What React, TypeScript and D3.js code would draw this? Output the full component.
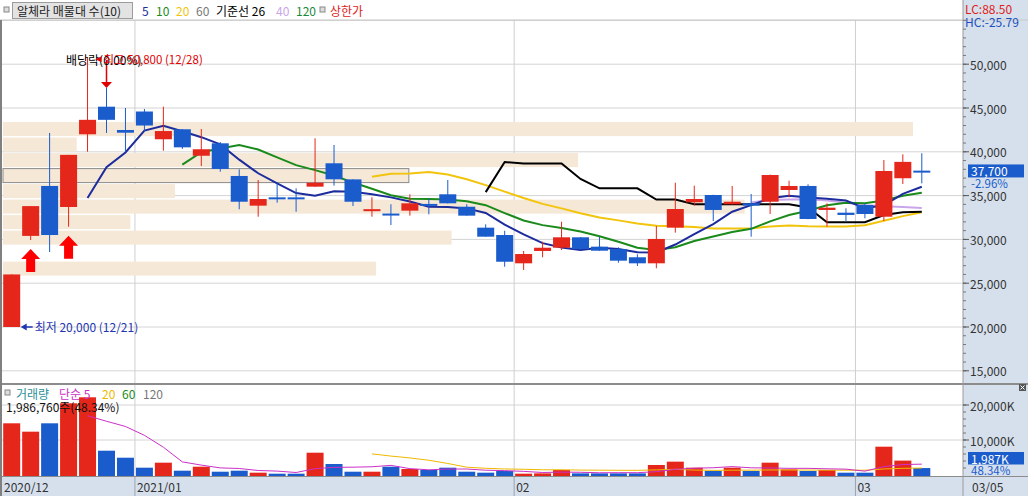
import React from "react";
import * as d3 from "d3";

// ---------- data ----------
const dates = [
  "2020-12-21","2020-12-22","2020-12-23","2020-12-24","2020-12-28","2020-12-29","2020-12-30",
  "2021-01-04","2021-01-05","2021-01-06","2021-01-07","2021-01-08","2021-01-11","2021-01-12","2021-01-13","2021-01-14","2021-01-15",
  "2021-01-18","2021-01-19","2021-01-20","2021-01-21","2021-01-22","2021-01-25","2021-01-26","2021-01-27","2021-01-28","2021-01-29",
  "2021-02-01","2021-02-02","2021-02-03","2021-02-04","2021-02-05","2021-02-08","2021-02-09","2021-02-10","2021-02-15","2021-02-16",
  "2021-02-17","2021-02-18","2021-02-19","2021-02-22","2021-02-23","2021-02-24","2021-02-25","2021-02-26",
  "2021-03-02","2021-03-03","2021-03-04","2021-03-05",
];
const open = [20000,30400,36100,33700,42000,45150,42490,44600,41430,42570,39550,40970,37240,33850,34800,34800,36020,38690,36850,33400,32950,33280,34050,35150,33730,31340,30500,27270,28680,29050,30240,29170,28900,27960,27270,31340,34240,35070,34010,34120,34300,35640,36100,33360,33050,33930,32590,36980,37850];
const high = [26000,33800,42150,39650,50800,47280,45000,44890,45150,42600,42600,41120,38000,36780,36400,35830,41540,40780,36860,34810,34010,35150,34690,36780,34010,31720,30990,28680,29740,32020,30250,30310,29100,28300,31530,36470,36130,35100,36100,35180,37400,36700,36290,34120,33550,34120,39060,39710,39830];
const low = [20000,29930,28560,31450,40010,42150,40010,42290,40130,40320,38380,37730,33440,32590,34190,33160,36000,36130,33810,32590,31640,32710,32870,34100,32700,30300,26880,26510,27960,28790,28790,28700,27340,26960,26700,30770,33850,32100,34000,30310,32900,34810,32300,31450,32020,32410,32100,36320,36400];
const close = [26000,33800,30500,39650,43650,43650,42180,43000,42370,40510,40290,38040,34300,34610,34750,34750,36470,36860,34300,33450,32900,34120,33850,34120,32710,30310,27450,28330,29050,30240,28900,28710,27570,27270,30050,33470,34610,33360,34300,33850,37350,36100,32330,33620,32790,32900,37810,38850,37700];
// volume in thousand shares
const volume = [14770,12380,14770,20490,22200,6940,4940,2090,3520,1230,2370,940,1230,660,370,370,6370,3140,940,940,2370,1710,1430,2090,940,660,1140,370,470,1430,470,470,470,470,2860,3810,2090,1140,2090,1140,3520,1620,1140,1430,660,660,8090,4110,1986.76];

const priceTicks = [15000,20000,25000,30000,35000,40000,45000,50000,55000];
const volumeTicks = [10000,20000];
const monthLabels = ["2020/12","2021/01","02","03"];
const lastDateLabel = "03/05";

// 매물대 (volume-at-price) bins, bottom to top, relative volume (% of largest)
const bandLow = 25750;
const bandStep = 1770;
const bandVolume = [41, 0, 49.3, 14, 81.5, 18.9, 44.6, 63.2, 8.1, 100];
const currentBand = 6;

const limitUpIdx = [1, 3];
const exDivIdx = 5;
const maxIdx = 4;
const minIdx = 0;

// ---------- helpers ----------
const sma = (v: number[], n: number) =>
  v.map((_, i) => (i < n - 1 ? null : (d3.mean(v.slice(i - n + 1, i + 1)) as number)));
const midline = (hi: number[], lo: number[], n: number) =>
  hi.map((_, i) =>
    i < n - 1 ? null : ((d3.max(hi.slice(i - n + 1, i + 1)) as number) + (d3.min(lo.slice(i - n + 1, i + 1)) as number)) / 2
  );

const RED = "#e5261b";
const BLUE = "#1b5ccc";
const AXBG = "#d6e0ec";
const FONT = "'Noto Sans CJK KR','Noto Sans',sans-serif";

const fmt = d3.format(",");
const mmdd = (d: string) => `${d.slice(5, 7)}/${d.slice(8, 10)}`;

export default function App() {
  const n = dates.length;
  const plotL = 2, plotR = 963;
  const x = d3.scaleLinear().domain([0, n - 1]).range([11.7, 921.8]);
  const yP = d3.scaleLinear().domain([15000, 50000]).range([370.8, 64.2]);
  const yV = d3.scaleLinear().domain([0, 20000]).range([475, 405]);
  const xBand = d3.scaleLinear().domain([0, 100]).range([3, 913]);
  const bw = 17;

  const ma5 = sma(close, 5), ma10 = sma(close, 10), ma20 = sma(close, 20), ma40 = sma(close, 40);
  const kijun = midline(high, low, 26);
  const vma5 = sma(volume, 5), vma20 = sma(volume, 20);

  const lineP = d3.line<number | null>().defined((d) => d != null).x((_, i) => x(i)).y((d) => yP(d as number));
  const lineV = d3.line<number | null>().defined((d) => d != null).x((_, i) => x(i)).y((d) => yV(d as number));

  const monthStarts: number[] = [];
  dates.forEach((d, i) => {
    if (i === 0 || d.slice(0, 7) !== dates[i - 1].slice(0, 7)) monthStarts.push(i);
  });

  const minorTicks = d3.range(15000, 56000, 1000);
  const last = n - 1;
  const prevClose = close[last - 1];
  const chg = ((close[last] - prevClose) / prevClose) * 100;
  const yLast = yP(close[last]);
  const volRatio = (volume[last] / volume[last - 1]) * 100;
  const vLabelY = Math.min(yV(volume[last]) - 7, 452);

  return (
    <svg width={1028} height={496} style={{ position: "absolute", left: 0, top: 0, background: "#fff" }} fontFamily={FONT} fontSize={12}>
      <defs>
        <clipPath id="pclip"><rect x={plotL} y={20} width={plotR - plotL} height={363} /></clipPath>
        <clipPath id="vclip"><rect x={plotL} y={385} width={plotR - plotL} height={91} /></clipPath>
      </defs>

      {/* axis backgrounds */}
      <rect x={plotR} y={0} width={1028 - plotR} height={496} fill={AXBG} />
      <rect x={0} y={477} width={1028} height={19} fill={AXBG} />

      {/* horizontal grid */}
      {priceTicks.map((t) => (
        <line key={"g" + t} x1={plotL} x2={plotR} y1={yP(t)} y2={yP(t)} stroke="#d4d4d4" />
      ))}
      {volumeTicks.map((t) => (
        <line key={"vg" + t} x1={plotL} x2={plotR} y1={yV(t)} y2={yV(t)} stroke="#d4d4d4" />
      ))}

      {/* month separators */}
      {monthStarts.filter((m) => m > 0).map((m) => (
        <g key={"m" + m}>
          <line x1={x(m - 0.5)} x2={x(m - 0.5)} y1={20} y2={477} stroke="#cfcfcf" />
          <line x1={x(m - 0.5)} x2={x(m - 0.5)} y1={477} y2={496} stroke="#9aa4b0" />
        </g>
      ))}

      {/* 매물대 bands */}
      <g clipPath="url(#pclip)">
        {bandVolume.map((v, k) => {
          const lo = bandLow + k * bandStep;
          const hi = lo + bandStep;
          const y0 = yP(hi) + 0.5;
          const h = yP(lo) - yP(hi) - 1.5;
          const w = xBand(v) - xBand(0);
          if (w <= 0) return null;
          return (
            <rect key={"b" + k} x={xBand(0)} y={y0} width={w} height={h} fill="#f5e8d7"
              stroke={k === currentBand ? "#8a8a8a" : "none"} strokeWidth={1} />
          );
        })}

        {/* moving averages */}
        <path d={lineP(ma40) || ""} fill="none" stroke="#c9a6ea" strokeWidth={2} />
        <path d={lineP(ma20) || ""} fill="none" stroke="#f2c40c" strokeWidth={2} />
        <path d={lineP(kijun) || ""} fill="none" stroke="#000" strokeWidth={2} />
        <path d={lineP(ma10) || ""} fill="none" stroke="#1a8a1a" strokeWidth={2} />
        <path d={lineP(ma5) || ""} fill="none" stroke="#1c2c9c" strokeWidth={2} />

        {/* candles */}
        {close.map((c, i) => {
          const o = open[i];
          const col = c >= o ? RED : BLUE;
          const top = yP(Math.max(o, c));
          const bh = Math.max(2, yP(Math.min(o, c)) - top);
          return (
            <g key={"c" + i}>
              <line x1={x(i)} x2={x(i)} y1={yP(high[i])} y2={yP(low[i])} stroke={col} strokeWidth={1} />
              <rect x={x(i) - bw / 2} y={top} width={bw} height={bh} fill={col} />
            </g>
          );
        })}

        {/* 상한가 arrows */}
        {limitUpIdx.map((i) => {
          const cx = x(i);
          const t = yP(low[i]) + 9;
          const pts = [
            [cx, t], [cx + 9.5, t + 10], [cx + 4.5, t + 10], [cx + 4.5, t + 23],
            [cx - 4.5, t + 23], [cx - 4.5, t + 10], [cx - 9.5, t + 10],
          ].map((p) => p.join(",")).join(" ");
          return <polygon key={"u" + i} points={pts} fill="#ff0000" />;
        })}

        {/* 배당락 marker */}
        <line x1={x(exDivIdx)} x2={x(exDivIdx)} y1={60} y2={yP(high[exDivIdx]) - 6} stroke="#e00000" strokeWidth={1.5} />
        <polygon
          points={`${x(exDivIdx) - 5.5},${yP(high[exDivIdx]) - 6} ${x(exDivIdx) + 5.5},${yP(high[exDivIdx]) - 6} ${x(exDivIdx)},${yP(high[exDivIdx])}`}
          fill="#e00000" />
        <text x={66} y={59} dominantBaseline="central" fill="#000">배당락(0.00%)</text>

        {/* max annotation */}
        <polygon
          points={`${x(maxIdx) + 8},${yP(high[maxIdx]) + 2} ${x(maxIdx) + 14},${yP(high[maxIdx]) - 1} ${x(maxIdx) + 14},${yP(high[maxIdx]) + 5}`}
          fill="#e00000" />
        <text x={x(maxIdx) + 16} y={59} dominantBaseline="central" fill="#e00000" fontSize={11.5}>
          {`최고 ${fmt(high[maxIdx])} (${mmdd(dates[maxIdx])})`}
        </text>

        {/* min annotation */}
        <polygon
          points={`${x(minIdx) + 9},${yP(low[minIdx])} ${x(minIdx) + 15},${yP(low[minIdx]) - 3.5} ${x(minIdx) + 15},${yP(low[minIdx]) + 3.5}`}
          fill="#1f36b0" />
        <line x1={x(minIdx) + 14} x2={x(minIdx) + 21} y1={yP(low[minIdx])} y2={yP(low[minIdx])} stroke="#1f36b0" strokeWidth={1.5} />
        <text x={x(minIdx) + 23} y={yP(low[minIdx]) - 1} dominantBaseline="central" fill="#1f36b0" fontSize={12}>
          {`최저 ${fmt(low[minIdx])} (${mmdd(dates[minIdx])})`}
        </text>
      </g>

      {/* volume panel */}
      <g clipPath="url(#vclip)">
        {volume.map((v, i) => (
          <rect key={"v" + i} x={x(i) - bw / 2} y={yV(v)} width={bw} height={476 - yV(v)}
            fill={close[i] >= open[i] ? RED : BLUE} />
        ))}
        <path d={lineV(vma20) || ""} fill="none" stroke="#f0b800" strokeWidth={1} />
        <path d={lineV(vma5) || ""} fill="none" stroke="#cc30c8" strokeWidth={1} />
      </g>
      <rect x={5} y={390} width={5} height={5} fill="#ddd" stroke="#888" />
      <text x={16} y={393} dominantBaseline="central" fill="#2c8f98">거래량</text>
      <text x={59} y={393} dominantBaseline="central" fill="#cc30c8">단순 5</text>
      <text x={102} y={393} dominantBaseline="central" fill="#f0b800">20</text>
      <text x={122} y={393} dominantBaseline="central" fill="#1a8a1a">60</text>
      <text x={143} y={393} dominantBaseline="central" fill="#777">120</text>
      <text x={6} y={406} dominantBaseline="central" fill="#111">{`${fmt(Math.round(volume[last] * 1000))}주(${volRatio.toFixed(2)}%)`}</text>

      {/* panel borders */}
      <line x1={0} x2={1028} y1={20} y2={20} stroke="#c8c8c8" />
      <line x1={0} x2={1028} y1={384} y2={384} stroke="#8c8c8c" strokeWidth={2} />
      <line x1={0} x2={1028} y1={476.5} y2={476.5} stroke="#8c8c8c" />
      <line x1={plotR} x2={plotR} y1={0} y2={496} stroke="#9a9a9a" />
      <rect x={0} y={20} width={2} height={476} fill="#808080" />

      {/* price axis */}
      {minorTicks.map((t) => (
        <line key={"mt" + t} x1={plotR} x2={plotR + 3} y1={yP(t)} y2={yP(t)} stroke="#777" />
      ))}
      {priceTicks.filter((t) => t <= 50000).map((t) => (
        <g key={"pt" + t}>
          <line x1={plotR} x2={plotR + 6} y1={yP(t)} y2={yP(t)} stroke="#555" />
          <text x={plotR + 7} y={yP(t)} dominantBaseline="central" fill="#333">{fmt(t)}</text>
        </g>
      ))}
      <text x={plotR + 2} y={8} dominantBaseline="central" fill="#e02020">LC:88.50</text>
      <text x={plotR + 2} y={21} dominantBaseline="central" fill="#1b4fc0">HC:-25.79</text>
      <rect x={plotR + 5} y={yLast - 7.5} width={56} height={13} fill={BLUE} />
      <text x={plotR + 8} y={yLast - 1} dominantBaseline="central" fill="#fff">{fmt(close[last])}</text>
      <text x={plotR + 8} y={yLast + 11} dominantBaseline="central" fill={BLUE} fontSize={11.5}>{`${chg.toFixed(2)}%`}</text>

      {/* volume axis */}
      {d3.range(2000, 22000, 2000).map((t) => (
        <line key={"vmt" + t} x1={plotR} x2={plotR + 3} y1={yV(t)} y2={yV(t)} stroke="#777" />
      ))}
      {volumeTicks.map((t) => (
        <g key={"vt" + t}>
          <line x1={plotR} x2={plotR + 6} y1={yV(t)} y2={yV(t)} stroke="#555" />
          <text x={plotR + 7} y={yV(t)} dominantBaseline="central" fill="#333">{`${fmt(t)}K`}</text>
        </g>
      ))}
      <rect x={1019} y={384} width={7} height={7} fill="#555" />
      <path d="M1020.5,385.5 L1024.5,389.5 M1024.5,385.5 L1020.5,389.5" stroke="#fff" strokeWidth={1} />
      <rect x={plotR + 5} y={vLabelY} width={56} height={12.5} fill={BLUE} />
      <text x={plotR + 8} y={vLabelY + 6} dominantBaseline="central" fill="#fff">{`${fmt(Math.round(volume[last]))}K`}</text>
      <text x={plotR + 8} y={vLabelY + 17.5} dominantBaseline="central" fill={BLUE} fontSize={11.5}>{`${volRatio.toFixed(2)}%`}</text>

      {/* date axis */}
      {monthStarts.map((m, k) => (
        <text key={"ml" + m} x={m === 0 ? 4 : x(m - 0.5) + 2} y={486.5} dominantBaseline="central" fill="#333">{monthLabels[k]}</text>
      ))}
      <text x={972} y={486.5} dominantBaseline="central" fill="#333">{lastDateLabel}</text>

      {/* header legend */}
      <rect x={4} y={7} width={5} height={5} fill="#ddd" stroke="#888" />
      <rect x={12.5} y={2.5} width={120} height={16} fill="#e3e3e3" stroke="#9c9c9c" />
      <text x={17} y={10.5} dominantBaseline="central" fill="#222">알체라 매물대 수(10)</text>
      <text x={142} y={10.5} dominantBaseline="central" fill="#1c2c9c">5</text>
      <text x={156} y={10.5} dominantBaseline="central" fill="#1a8a1a">10</text>
      <text x={176} y={10.5} dominantBaseline="central" fill="#f2c40c">20</text>
      <text x={196} y={10.5} dominantBaseline="central" fill="#777">60</text>
      <text x={216} y={10.5} dominantBaseline="central" fill="#000">기준선 26</text>
      <text x={276} y={10.5} dominantBaseline="central" fill="#c9a6ea">40</text>
      <text x={296} y={10.5} dominantBaseline="central" fill="#1a8a3a">120</text>
      <rect x={320} y={7} width={5} height={5} fill="#ddd" stroke="#888" />
      <text x={330} y={10.5} dominantBaseline="central" fill="#e02020">상한가</text>
    </svg>
  );
}
